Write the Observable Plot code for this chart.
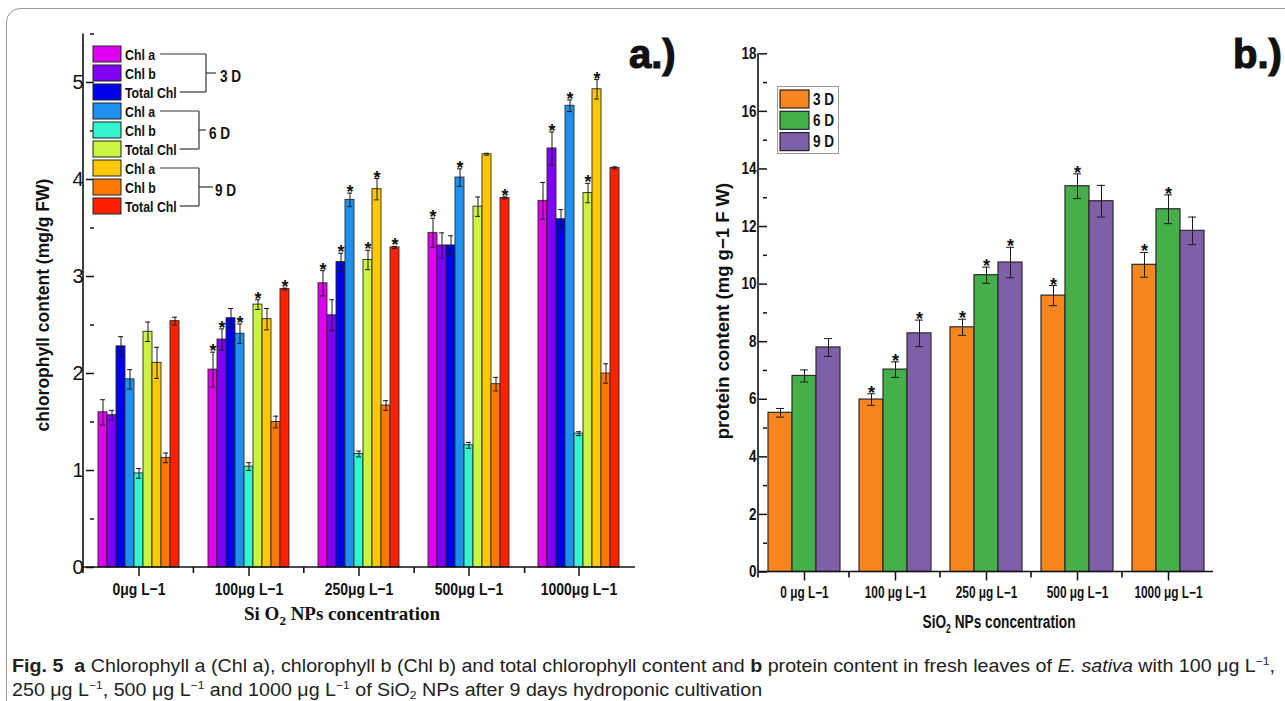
<!DOCTYPE html>
<html><head><meta charset="utf-8">
<script src="https://cdn.jsdelivr.net/npm/d3@7"></script>
<script src="https://cdn.jsdelivr.net/npm/@observablehq/plot@0.6"></script>
<style>
body{margin:0;background:#fff;}
#root{position:relative;width:1285px;height:701px;overflow:hidden;background:#fff;}
#root svg{position:absolute;top:0;}
#frame{position:absolute;left:6px;top:8px;width:1300px;height:720px;border:1px solid #9a9a9a;border-radius:14px;box-sizing:border-box;}
#caption{position:absolute;left:12px;top:654px;font-family:'Liberation Sans',Arial,sans-serif;font-size:18px;line-height:24px;color:#222;white-space:nowrap;}
#caption span.line{display:inline-block;transform-origin:0 50%;}
#caption sup{font-size:11px;vertical-align:7px;line-height:0;}
#caption sub{font-size:11px;vertical-align:-3px;line-height:0;}
#legB{position:absolute;left:777px;top:86px;width:62px;height:68px;border:1px solid #999;box-sizing:border-box;background:#fff;}
</style></head><body><div id="root"><div id="frame"></div></div>
<script>
// ---------------- Panel a data ----------------
const concA = ["0μg L−1","100μg L−1","250μg L−1","500μg L−1","1000μg L−1"];
const seriesKeysA = ["Chl a 3D","Chl b 3D","Total Chl 3D","Chl a 6D","Chl b 6D","Total Chl 6D","Chl a 9D","Chl b 9D","Total Chl 9D"];
const seriesLabelsA = ["Chl a","Chl b","Total Chl","Chl a","Chl b","Total Chl","Chl a","Chl b","Total Chl"];
const dayLabels = ["3 D","6 D","9 D"];
const colorsA = ["#E000F0","#8000F8","#0000EE","#1E90F0","#33F5D0","#CCF540","#FFC800","#FF7800","#FF2000"];

const chlA_3D = [1.60, 2.04, 2.93, 3.45, 3.78];
const chlA_3D_sd = [0.13, 0.18, 0.13, 0.15, 0.19];
const chlA_3D_sig = [0, 1, 1, 1, 0];
const chlB_3D = [1.57, 2.35, 2.60, 3.32, 4.32];
const chlB_3D_sd = [0.05, 0.11, 0.16, 0.13, 0.17];
const chlB_3D_sig = [0, 1, 0, 0, 1];
const tot_3D = [2.28, 2.57, 3.15, 3.32, 3.59];
const tot_3D_sd = [0.10, 0.10, 0.09, 0.10, 0.10];
const tot_3D_sig = [0, 0, 1, 0, 0];
const chlA_6D = [1.94, 2.41, 3.79, 4.02, 4.76];
const chlA_6D_sd = [0.10, 0.10, 0.07, 0.09, 0.06];
const chlA_6D_sig = [0, 1, 1, 1, 1];
const chlB_6D = [0.97, 1.04, 1.17, 1.26, 1.38];
const chlB_6D_sd = [0.05, 0.04, 0.03, 0.03, 0.02];
const chlB_6D_sig = [0, 0, 0, 0, 0];
const tot_6D = [2.43, 2.71, 3.17, 3.72, 3.86];
const tot_6D_sd = [0.10, 0.05, 0.10, 0.10, 0.10];
const tot_6D_sig = [0, 1, 1, 0, 1];
const chlA_9D = [2.11, 2.56, 3.90, 4.26, 4.93];
const chlA_9D_sd = [0.16, 0.11, 0.11, 0.01, 0.10];
const chlA_9D_sig = [0, 0, 1, 0, 1];
const chlB_9D = [1.13, 1.50, 1.67, 1.89, 2.00];
const chlB_9D_sd = [0.05, 0.06, 0.05, 0.07, 0.10];
const chlB_9D_sig = [0, 0, 0, 0, 0];
const tot_9D = [2.54, 2.87, 3.30, 3.81, 4.12];
const tot_9D_sd = [0.04, 0.01, 0.01, 0.01, 0.01];
const tot_9D_sig = [0, 1, 1, 1, 0];

const yTicksA = [0, 1, 2, 3, 4, 5];
const yMinorA = [0.5, 1.5, 2.5, 3.5, 4.5, 5.5];

// ---------------- Panel b data ----------------
const concB = ["0 μg L−1","100 μg L−1","250 μg L−1","500 μg L−1","1000 μg L−1"];
const colorsB = ["#F7861E","#45B04A","#7F5FA8"];
const protein_3D = [5.53, 5.99, 8.50, 9.60, 10.67];
const protein_3D_sd = [0.15, 0.20, 0.28, 0.35, 0.43];
const protein_3D_sig = [0, 1, 1, 1, 1];
const protein_6D = [6.81, 7.03, 10.31, 13.40, 12.60];
const protein_6D_sd = [0.21, 0.27, 0.28, 0.43, 0.50];
const protein_6D_sig = [0, 1, 1, 1, 1];
const protein_9D = [7.80, 8.29, 10.75, 12.88, 11.85];
const protein_9D_sd = [0.31, 0.46, 0.53, 0.55, 0.48];
const protein_9D_sig = [0, 1, 1, 0, 0];

const yTicksB = [0, 2, 4, 6, 8, 10, 12, 14, 16, 18];
const yMinorB = [1, 3, 5, 7, 9, 11, 13, 15, 17];

// ---------------- Tables ----------------
const valsA = [chlA_3D, chlB_3D, tot_3D, chlA_6D, chlB_6D, tot_6D, chlA_9D, chlB_9D, tot_9D];
const sdsA = [chlA_3D_sd, chlB_3D_sd, tot_3D_sd, chlA_6D_sd, chlB_6D_sd, tot_6D_sd, chlA_9D_sd, chlB_9D_sd, tot_9D_sd];
const sigsA = [chlA_3D_sig, chlB_3D_sig, tot_3D_sig, chlA_6D_sig, chlB_6D_sig, tot_6D_sig, chlA_9D_sig, chlB_9D_sig, tot_9D_sig];
const tableA = [];
concA.forEach((c, g) => seriesKeysA.forEach((k, s) => tableA.push({conc: c, key: k, value: valsA[s][g], sd: sdsA[s][g], sig: sigsA[s][g]})));

const valsB = [protein_3D, protein_6D, protein_9D];
const sdsB = [protein_3D_sd, protein_6D_sd, protein_9D_sd];
const sigsB = [protein_3D_sig, protein_6D_sig, protein_9D_sig];
const tableB = [];
concB.forEach((c, g) => dayLabels.forEach((k, s) => tableB.push({conc: c, key: k, value: valsB[s][g], sd: sdsB[s][g], sig: sigsB[s][g]})));

const FONT = "'Liberation Sans', Arial, sans-serif";
const root = document.getElementById("root");

// compress text horizontally (emulates a narrow bold face)
function narrow(nodes, f) {
  nodes.forEach(n => {
    const w = n.getComputedTextLength();
    if (w > 0) { n.setAttribute("textLength", (w * f).toFixed(2)); n.setAttribute("lengthAdjust", "spacingAndGlyphs"); }
  });
}

function errMarks(table, capInset, starSize) {
  return [
    Plot.ruleX(table, {fx: "conc", x: "key", y1: d => d.value - d.sd, y2: d => d.value + d.sd, stroke: "#1a1a1a", strokeWidth: 1}),
    Plot.tickY(table, {fx: "conc", x: "key", y: d => d.value + d.sd, insetLeft: capInset, insetRight: capInset, stroke: "#1a1a1a", strokeWidth: 1}),
    Plot.tickY(table, {fx: "conc", x: "key", y: d => d.value - d.sd, insetLeft: capInset, insetRight: capInset, stroke: "#1a1a1a", strokeWidth: 1}),
    Plot.text(table.filter(d => d.sig), {fx: "conc", x: "key", y: d => d.value + d.sd, text: () => "*", lineAnchor: "bottom", dy: 5, fontSize: starSize, fontWeight: "bold", fontFamily: FONT, fill: "#111"})
  ];
}

function axisLines(plot, n) {
  const fx = plot.scale("fx"), y = plot.scale("y");
  const [x0, x1] = fx.range;
  const [yb, yt] = y.range;
  const g = d3.select(plot).append("g").attr("stroke", "#111").attr("stroke-width", 1.6).attr("fill", "none");
  g.append("line").attr("x1", x0).attr("x2", x1).attr("y1", yb).attr("y2", yb);
  g.append("line").attr("x1", x0).attr("x2", x0).attr("y1", yb).attr("y2", yt);
  const step = (x1 - x0) / n;
  d3.range(n).forEach(k => g.append("line").attr("x1", x0 + k * step).attr("x2", x0 + k * step).attr("y1", yb).attr("y2", yb + 6));
}

// ---------------- Panel a plot ----------------
const plotA = Plot.plot({
  width: 680, height: 640,
  marginLeft: 83, marginRight: 45, marginTop: 33.5, marginBottom: 73,
  style: {fontFamily: FONT, fontSize: "16px", background: "transparent", overflow: "visible", color: "#111"},
  fx: {domain: concA, paddingInner: 0.19, paddingOuter: 0.095, label: null},
  x: {domain: seriesKeysA, padding: 0, axis: null},
  y: {domain: [0, 5.5], label: null},
  color: {domain: seriesKeysA, range: colorsA},
  marks: [
    Plot.barY(tableA, {fx: "conc", x: "key", y: "value", fill: "key", stroke: "#2a2a2a", strokeWidth: 0.9}),
    ...errMarks(tableA, 2, 18),
    Plot.axisY({ticks: yTicksA, tickFormat: d => String(d), tickSize: 8, tickPadding: 3, label: null, fontSize: 20, fontFamily: FONT, strokeWidth: 1.5}),
    Plot.axisY({ticks: yMinorA, tickSize: 4, tickFormat: () => "", label: null, strokeWidth: 1.5}),
    Plot.axisFx({anchor: "bottom", tickSize: 9, tickPadding: 6, label: null, fontSize: 17, fontWeight: "bold", fontFamily: FONT, strokeWidth: 1.5})
  ]
});
plotA.style.left = "0px";
root.appendChild(plotA);
axisLines(plotA, concA.length);
narrow(plotA.querySelectorAll('g[aria-label="fx-axis tick label"] text'), 0.82);

// ---------------- Panel b plot ----------------
const plotB = Plot.plot({
  width: 605, height: 640,
  marginLeft: 78, marginRight: 72, marginTop: 53.3, marginBottom: 68.5,
  style: {fontFamily: FONT, fontSize: "16px", background: "transparent", overflow: "visible", color: "#111"},
  fx: {domain: concB, paddingInner: 0.19, paddingOuter: 0.095, label: null},
  x: {domain: dayLabels, padding: 0, axis: null},
  y: {domain: [0, 18], label: null},
  color: {domain: dayLabels, range: colorsB},
  marks: [
    Plot.barY(tableB, {fx: "conc", x: "key", y: "value", fill: "key", stroke: "#2a2a2a", strokeWidth: 1.2}),
    ...errMarks(tableB, 8, 18),
    Plot.axisY({ticks: yTicksB, tickFormat: d => String(d), tickSize: 8, tickPadding: 3, label: null, fontSize: 16, fontWeight: "bold", fontFamily: FONT, strokeWidth: 1.5}),
    Plot.axisY({ticks: yMinorB, tickSize: 4, tickFormat: () => "", label: null, strokeWidth: 1.5}),
    Plot.axisFx({anchor: "bottom", tickSize: 9, tickPadding: 6, label: null, fontSize: 16, fontWeight: "bold", fontFamily: FONT, strokeWidth: 1.5})
  ]
});
plotB.style.left = "680px";
root.appendChild(plotB);
axisLines(plotB, concB.length);
narrow(plotB.querySelectorAll('g[aria-label="fx-axis tick label"] text'), 0.74);
narrow(plotB.querySelectorAll('g[aria-label="y-axis tick label"] text'), 0.84);

// ---------------- Overlay: titles, legend a ----------------
const ov = d3.select(root).append("svg").attr("width", 1285).attr("height", 701).style("left", "0px").style("pointer-events", "none");

ov.append("text").attr("transform", "translate(43,305) rotate(-90)").attr("text-anchor", "middle").attr("dominant-baseline", "central")
  .attr("font-family", FONT).attr("font-weight", "bold").attr("font-size", 17.5).attr("fill", "#111").text("chlorophyll content (mg/g FW)");
ov.append("text").attr("transform", "translate(722,311) rotate(-90)").attr("text-anchor", "middle").attr("dominant-baseline", "central")
  .attr("font-family", FONT).attr("font-weight", "bold").attr("font-size", 18.5).attr("fill", "#111").text("protein content (mg g−1 F W)");

const tA = ov.append("text").attr("x", 342).attr("y", 620).attr("text-anchor", "middle")
  .attr("font-family", "'Liberation Serif', 'Times New Roman', serif").attr("font-weight", "bold").attr("font-size", 19).attr("fill", "#111");
tA.append("tspan").text("Si O");
tA.append("tspan").attr("font-size", 13).attr("dy", 5).text("2");
tA.append("tspan").attr("dy", -5).text(" NPs concentration");

const tB = ov.append("text").attr("transform", "translate(999,628) scale(0.72,1)").attr("text-anchor", "middle")
  .attr("font-family", FONT).attr("font-weight", "bold").attr("font-size", 19).attr("fill", "#111");
tB.append("tspan").text("SiO");
tB.append("tspan").attr("font-size", 12).attr("dy", 5).text("2");
tB.append("tspan").attr("dy", -5).text(" NPs concentration");

ov.append("text").attr("x", 629).attr("y", 68).attr("font-family", FONT).attr("font-weight", "bold").attr("font-size", 40).attr("fill", "#111").attr("stroke", "#111").attr("stroke-width", 1.2).text("a.)");
ov.append("text").attr("x", 1233).attr("y", 68).attr("font-family", FONT).attr("font-weight", "bold").attr("font-size", 40).attr("fill", "#111").attr("stroke", "#111").attr("stroke-width", 1.2).text("b.)");

// legend a
const legTop = 54, legStep = 19;
const bracketX = [206, 199, 199], stubEnd = [216, 206, 213], dayX = [220, 209, 215];
const lg = ov.append("g");
seriesKeysA.forEach((k, i) => {
  const cy = legTop + i * legStep;
  lg.append("rect").attr("x", 93).attr("y", cy - 8).attr("width", 28).attr("height", 16).attr("fill", colorsA[i]).attr("stroke", "#222").attr("stroke-width", 1);
  lg.append("text").attr("x", 125).attr("y", cy).attr("dominant-baseline", "central").attr("font-family", FONT).attr("font-weight", "bold").attr("font-size", 15).attr("fill", "#111").text(seriesLabelsA[i]).attr("class", "lt" + i);
});
narrow(lg.selectAll("text").nodes(), 0.82);
dayLabels.forEach((d, gI) => {
  const i0 = gI * 3, i2 = gI * 3 + 2;
  const c0 = legTop + i0 * legStep, c1 = legTop + (i0 + 1) * legStep, c2 = legTop + i2 * legStep;
  const e0 = 125 + (+lg.select(".lt" + i0).attr("textLength")) + 5;
  const e2 = 125 + (+lg.select(".lt" + i2).attr("textLength")) + 3;
  const bx = bracketX[gI];
  const ln = (x1, y1, x2, y2) => lg.append("line").attr("x1", x1).attr("y1", y1).attr("x2", x2).attr("y2", y2).attr("stroke", "#333").attr("stroke-width", 1.2);
  ln(e0, c0, bx, c0); ln(e2, c2, bx, c2); ln(bx, c0, bx, c2); ln(bx, c1, stubEnd[gI], c1);
  const t = lg.append("text").attr("x", dayX[gI]).attr("y", c1 + 3).attr("dominant-baseline", "central").attr("font-family", FONT).attr("font-weight", "bold").attr("font-size", 16).attr("fill", "#111").text(d);
  narrow([t.node()], 0.85);
});

// legend b
const legB = document.createElement("div");
legB.id = "legB";
root.appendChild(legB);
const lb = d3.select(legB).append("svg").attr("width", 62).attr("height", 68).style("left", "-1px").style("top", "-1px");
dayLabels.forEach((d, i) => {
  const cy = 13 + i * 21.3;
  lb.append("rect").attr("x", 3).attr("y", cy - 9).attr("width", 29).attr("height", 18).attr("fill", colorsB[i]).attr("stroke", "#222").attr("stroke-width", 1.2);
  const t = lb.append("text").attr("x", 36).attr("y", cy).attr("dominant-baseline", "central").attr("font-family", FONT).attr("font-weight", "bold").attr("font-size", 16).attr("fill", "#111").text(d);
  narrow([t.node()], 0.85);
});

// caption
const cap = document.createElement("div");
cap.id = "caption";
cap.innerHTML = '<span class="line"><b>Fig. 5</b>&nbsp; <b>a</b> Chlorophyll a (Chl a), chlorophyll b (Chl b) and total chlorophyll content and <b>b</b> protein content in fresh leaves of <i>E. sativa</i> with 100 μg L<sup>−1</sup>,</span><br>' +
  '<span class="line">250 μg L<sup>−1</sup>, 500 μg L<sup>−1</sup> and 1000 μg L<sup>−1</sup> of SiO<sub>2</sub> NPs after 9 days hydroponic cultivation</span>';
root.appendChild(cap);
const lines = cap.querySelectorAll("span.line");
const w1 = lines[0].getBoundingClientRect().width;
const sc = 1263 / w1;
lines.forEach(l => l.style.transform = `scaleX(${sc})`);
</script>
</body></html>
